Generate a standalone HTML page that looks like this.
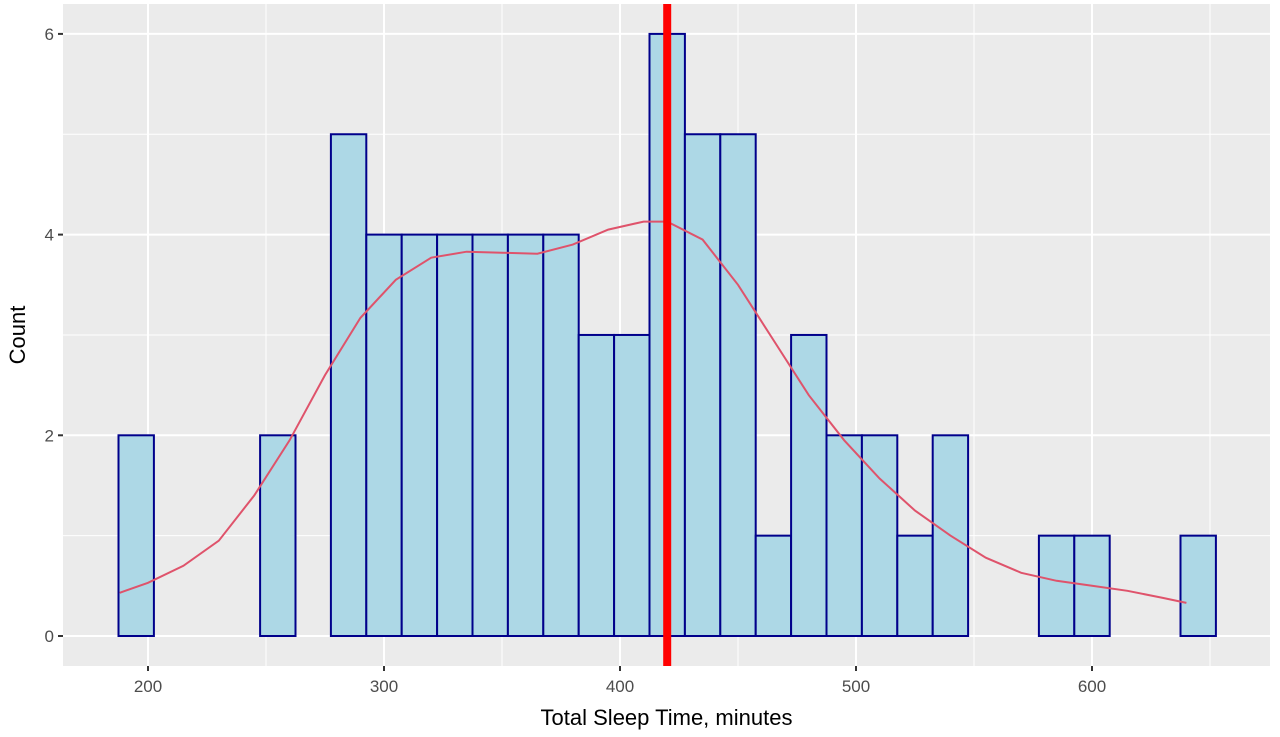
<!DOCTYPE html>
<html><head><meta charset="utf-8"><style>
body{margin:0;background:#fff;font-family:"Liberation Sans",sans-serif}
svg{display:block}
</style></head><body>
<svg id="chart" width="1280" height="737" xmlns="http://www.w3.org/2000/svg"></svg>
<script>
const binStarts=[187.5,202.5,217.5,232.5,247.5,262.5,277.5,292.5,307.5,322.5,337.5,352.5,367.5,382.5,397.5,412.5,427.5,442.5,457.5,472.5,487.5,502.5,517.5,532.5,547.5,562.5,577.5,592.5,607.5,622.5,637.5];
const counts=[2,0,0,0,2,0,5,4,4,4,4,4,4,3,3,6,5,5,1,3,2,2,1,2,0,0,1,1,0,0,1];
const binWidth=15;
const densX=[188,200,215,230,245,260,275,290,305,320,335,350,365,380,395,410,420,435,450,465,480,495,510,525,540,555,570,585,600,615,630,640];
const densY=[0.43,0.53,0.7,0.95,1.4,1.95,2.6,3.17,3.55,3.77,3.83,3.82,3.81,3.9,4.05,4.13,4.13,3.95,3.5,2.95,2.4,1.95,1.57,1.25,1.0,0.78,0.63,0.55,0.5,0.45,0.38,0.33];
const meanLine=420;
const xTicks=[200,300,400,500,600];
const yTicks=[0,2,4,6];

const NS="http://www.w3.org/2000/svg";
const svg=document.getElementById('chart');
const PL=63,PR=1270,PT=4,PB=666;
const X=v=>148+(v-200)*2.36;
const Y=v=>636-v*100.35;
function mk(t,a,parent){const e=document.createElementNS(NS,t);for(const k in a)e.setAttribute(k,a[k]);(parent||svg).appendChild(e);return e;}
const panel=mk('rect',{x:PL,y:PT,width:PR-PL,height:PB-PT,fill:'#ebebeb'});


// minor grid
[250,350,450,550,650].forEach(v=>{const l=mk('line',{x1:X(v),x2:X(v),y1:PT,y2:PB,stroke:'#fff','stroke-width':1});});
[1,3,5].forEach(v=>{const l=mk('line',{x1:PL,x2:PR,y1:Y(v),y2:Y(v),stroke:'#fff','stroke-width':1});});
xTicks.forEach(v=>{const l=mk('line',{x1:X(v),x2:X(v),y1:PT,y2:PB,stroke:'#fff','stroke-width':2});
const t=mk('line',{x1:X(v),x2:X(v),y1:PB,y2:PB+5,stroke:'#333','stroke-width':2});
const tx=mk('text',{x:X(v),y:PB+26,'text-anchor':'middle','font-size':17,fill:'#4d4d4d'});tx.textContent=v;});
yTicks.forEach(v=>{const l=mk('line',{x1:PL,x2:PR,y1:Y(v),y2:Y(v),stroke:'#fff','stroke-width':2});
const t=mk('line',{x1:PL-5,x2:PL,y1:Y(v),y2:Y(v),stroke:'#333','stroke-width':2});
const tx=mk('text',{x:PL-9,y:Y(v)+6,'text-anchor':'end','font-size':17,fill:'#4d4d4d'});tx.textContent=v;});
// bars
binStarts.forEach((s,i)=>{const x0=X(s),x1=X(s+binWidth),y0=Y(counts[i]),yb=Y(0);
const r=mk('rect',{x:x0,y:Math.min(y0,yb),width:x1-x0,height:Math.abs(yb-y0),fill:'#add8e6',stroke:'#00008b','stroke-width':2});

});
// density
const d=densX.map((v,i)=>(i?'L':'M')+X(v).toFixed(1)+','+Y(densY[i]).toFixed(1)).join(' ');
const p=mk('path',{d:d,fill:'none',stroke:'#df536b','stroke-width':2});


const ml=mk('line',{x1:X(meanLine),x2:X(meanLine),y1:PT,y2:PB,stroke:'#ff0000','stroke-width':8});


const xt=mk('text',{x:(PL+PR)/2,y:725,'text-anchor':'middle','font-size':22,fill:'#000'});xt.textContent='Total Sleep Time, minutes';


const yt=mk('text',{x:0,y:0,'text-anchor':'middle','font-size':22,fill:'#000',transform:'translate(25,335) rotate(-90)'});yt.textContent='Count';


</script>
</body></html>
